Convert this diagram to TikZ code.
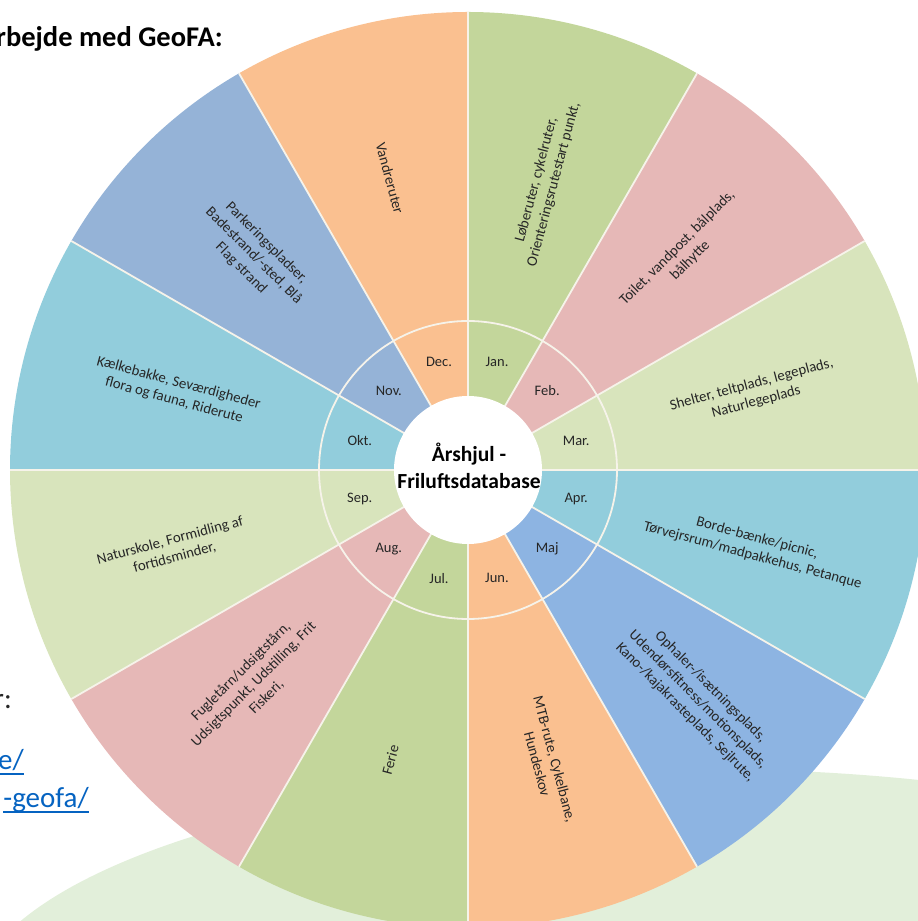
\documentclass[tikz,border=0pt]{standalone}
\usepackage{fontspec}
\setmainfont{Carlito}
\usetikzlibrary{calc}
\definecolor{cGreen}{HTML}{C3D69B}
\definecolor{cPink}{HTML}{E6B8B7}
\definecolor{cLGreen}{HTML}{D8E4BC}
\definecolor{cLBlue}{HTML}{92CDDC}
\definecolor{cBlueA}{HTML}{8DB4E2}
\definecolor{cBlueB}{HTML}{95B3D7}
\definecolor{cOrange}{HTML}{FAC090}
\definecolor{cBlob}{HTML}{E2EFDA}
\definecolor{cSep}{HTML}{F6F3EA}
\definecolor{cLink}{HTML}{0563C1}
\definecolor{cText}{HTML}{262626}
\begin{document}
\begin{tikzpicture}[x=1pt,y=1pt,
  sepline/.style={draw=cSep,line width=1.8pt},
  wtxt/.style={inner sep=0pt,align=center,text=cText,font=\fontsize{14.8}{18}\selectfont},
  mtxt/.style={inner sep=0pt,text=cText,font=\fontsize{14.5}{17}\selectfont},
  sidetxt/.style={inner sep=0pt,anchor=base east,font=\fontsize{29}{34}\selectfont},
  linktxt/.style={sidetxt,text=cLink},
  linkline/.style={draw=cLink,line width=1.3pt}]
\useasboundingbox (0,0) rectangle (918,921);
% background blob
\fill[cBlob] (700,-88) ellipse [x radius=730, y radius=240];
% header texts
\node[sidetxt,font=\bfseries\fontsize{28.5}{34}\selectfont,text=black] (hdr) at (223,874) {rbejde med GeoFA:};
\node[sidetxt,text=cText] (side) at (12,212) {r:};
\node[linktxt] (lk1) at (24,151) {e/};
\node[linktxt] (lk2) at (89,113) {-geofa/};
\draw[linkline] ([yshift=-4pt]lk1.base west) -- ([yshift=-4pt]lk1.base east);
\draw[linkline] ([yshift=-4pt]lk2.base west) -- ([yshift=-4pt]lk2.base east);
% wheel
\coordinate (C) at (468,451);
\foreach \s/\col in {90/cGreen,60/cPink,30/cLGreen,0/cLBlue,-30/cBlueA,-60/cOrange,
                     -90/cGreen,-120/cPink,-150/cLGreen,180/cLBlue,150/cBlueB,120/cOrange}{
  \fill[\col] (C) -- ($(C)+(\s:458)$) arc[start angle=\s, end angle=\s-30, radius=458] -- cycle;
}
\foreach \a in {0,30,...,330}{
  \draw[sepline] (C) -- ($(C)+(\a:458)$);
}
\draw[sepline] (C) circle[radius=149];
\fill[white] (C) circle[radius=74];
\node[inner sep=0pt,align=center,text=black,font=\bfseries\fontsize{21.5}{27}\selectfont] (title) at (469,455) {Årshjul -\\Friluftsdatabase};
% month labels
\foreach \n/\a in {Jan./75,Feb./45,Mar./15,Apr./-15,Maj/-45,Jun./-75,Jul./-105,Aug./-135,Sep./-165,Okt./165,Nov./135,Dec./105}{
  \node[mtxt] (m\a) at ($(C)+(\a:112)$) {\n};
}
% wedge texts
\node[wtxt,rotate=75] (lJan) at ($(C)+(75:298)$) {Løberuter, cykelruter,\\Orienteringsrutestart punkt,};
\node[wtxt,rotate=45] (lFeb) at ($(C)+(45:305)$) {Toilet, vandpost, bålplads,\\bålhytte};
\node[wtxt,rotate=15] (lMar) at ($(C)+(15:296)$) {Shelter, teltplads, legeplads,\\Naturlegeplads};
\node[wtxt,rotate=-15] (lApr) at ($(C)+(-15:297)$) {Borde-bænke/picnic,\\Tørvejrsrum/madpakkehus, Petanque};
\node[wtxt,rotate=-45] (lMaj) at ($(C)+(-45:325)$) {Ophaler-/isætningsplads,\\Udendørsfitness/motionsplads,\\Kano-/kajakrasteplads, Sejlrute,};
\node[wtxt,rotate=-75] (lJun) at ($(C)+(-75:302)$) {MTB-rute, Cykelbane,\\Hundeskov};
\node[wtxt,rotate=75] (lJul) at ($(C)+(-105:300)$) {Ferie};
\node[wtxt,rotate=45] (lAug) at ($(C)+(-135:303)$) {Fugletårn/udsigtstårn,\\Udsigtspunkt, Udstilling, Frit\\Fiskeri,};
\node[wtxt,rotate=15] (lSep) at ($(C)+(-165:306)$) {Naturskole, Formidling af\\fortidsminder,};
\node[wtxt,rotate=-15] (lOkt) at ($(C)+(165:302)$) {Kælkebakke, Seværdigheder\\flora og fauna, Riderute};
\node[wtxt,rotate=-45] (lNov) at ($(C)+(135:303)$) {Parkeringspladser,\\Badestrand/-sted, Blå\\Flag strand};
\node[wtxt,rotate=-75] (lDec) at ($(C)+(105:302)$) {Vandreruter};
\end{tikzpicture}
\end{document}
